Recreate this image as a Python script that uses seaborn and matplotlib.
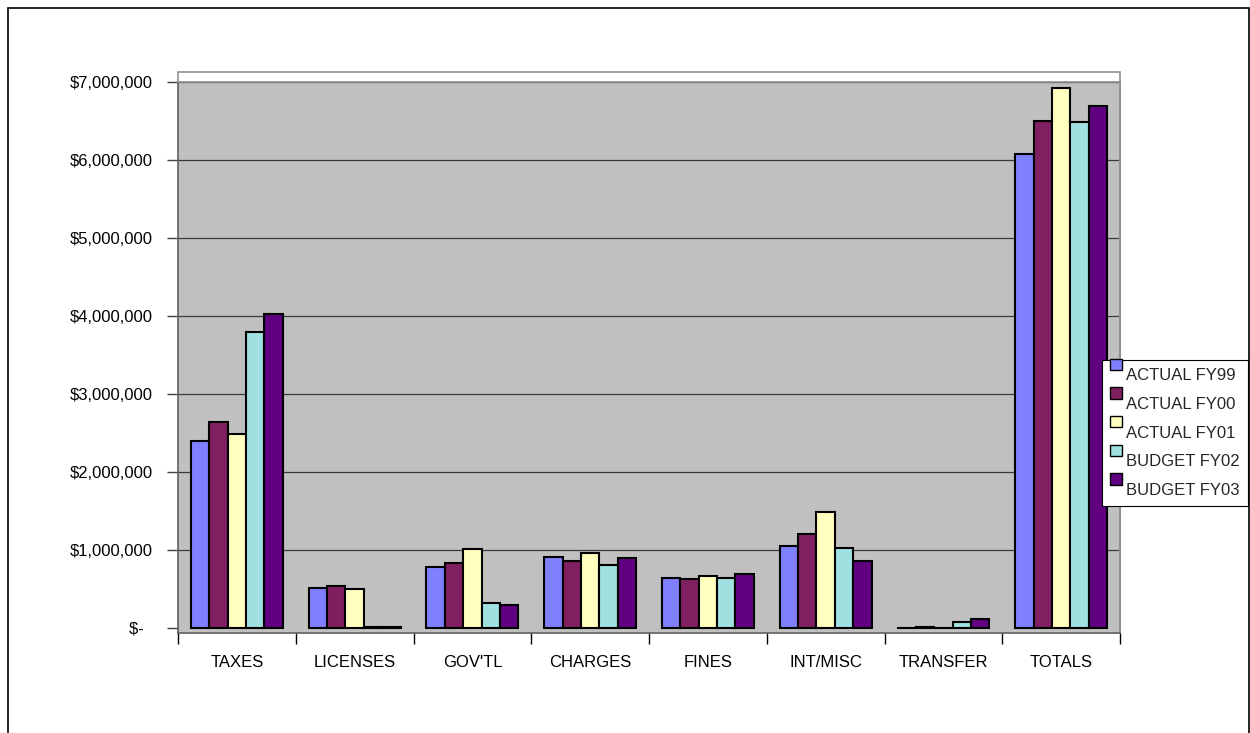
import numpy as np
import pandas as pd
import matplotlib
matplotlib.use("Agg")
import matplotlib.pyplot as plt
import seaborn as sns
from matplotlib.ticker import FuncFormatter, FixedLocator
from matplotlib.patches import Rectangle, Patch
from matplotlib.legend_handler import HandlerPatch

categories = ["TAXES", "LICENSES", "GOV'TL", "CHARGES", "FINES", "INT/MISC", "TRANSFER", "TOTALS"]
series = ["ACTUAL FY99", "ACTUAL FY00", "ACTUAL FY01", "BUDGET FY02", "BUDGET FY03"]
actual_fy99 = [2400000, 510000, 780000, 910000, 640000, 1050000, 0, 6080000]
actual_fy00 = [2640000, 540000, 830000, 860000, 630000, 1210000, 10000, 6500000]
actual_fy01 = [2490000, 500000, 1010000, 960000, 670000, 1490000, 0, 6920000]
budget_fy02 = [3790000, 10000, 320000, 810000, 640000, 1030000, 70000, 6490000]
budget_fy03 = [4030000, 10000, 290000, 900000, 690000, 860000, 110000, 6690000]
colors = ["#8080FF", "#802060", "#FFFFC0", "#A0E0E0", "#600080"]

values = [actual_fy99, actual_fy00, actual_fy01, budget_fy02, budget_fy03]
rows = []
for s, vals in zip(series, values):
    for c, v in zip(categories, vals):
        rows.append({"category": c, "series": s, "value": v})
df = pd.DataFrame(rows)

sns.set_theme(style="white")
plt.rcParams["font.family"] = ["Liberation Sans", "DejaVu Sans"]

W, H = 1250, 733
fig = plt.figure(figsize=(W / 100, H / 100), dpi=100)
fig.patch.set_facecolor("white")

left, right, top, bottom = 178, 1120, 82, 633
ax = fig.add_axes([left / W, 1 - bottom / H, (right - left) / W, (bottom - top) / H])
ax.set_facecolor("#C0C0C0")

sns.barplot(data=df, x="category", y="value", hue="series", order=categories,
            hue_order=series, palette=colors, width=0.78, gap=0, saturation=1,
            edgecolor="black", linewidth=1.5, legend=False, ax=ax, zorder=3)

ax.set_xlim(-0.5, len(categories) - 0.5)
ax.set_ylim(-65000, 7000000)
ax.set_xlabel("")
ax.set_ylabel("")

yt = np.arange(0, 8) * 1000000
ax.yaxis.set_major_locator(FixedLocator(yt))
ax.yaxis.set_major_formatter(FuncFormatter(lambda v, p: "$-  " if v == 0 else "${:,.0f}".format(v)))
for y in yt[1:]:
    ax.axhline(y, color="#3a3a3a", lw=0.9, zorder=1)

ax.tick_params(axis="y", which="major", length=8, width=1, color="#404040",
               direction="out", labelsize=12, pad=10, left=True)
ax.xaxis.set_minor_locator(FixedLocator(np.arange(-0.5, len(categories), 1.0)))
ax.tick_params(axis="x", which="minor", length=8, width=1, color="black", direction="out", bottom=True)
ax.tick_params(axis="x", which="major", length=0, labelsize=12, pad=16)
for lbl in ax.get_xticklabels() + ax.get_yticklabels():
    lbl.set_color("black")

for side in ["left", "bottom"]:
    ax.spines[side].set_color("#606060")
    ax.spines[side].set_linewidth(1.2)
ax.spines["right"].set_color("#909090")
ax.spines["right"].set_linewidth(1.5)
ax.spines["top"].set_visible(False)

# 3D wall top strip
fig.patches.append(Rectangle((left / W, 1 - top / H), (right - left) / W, 10 / H,
                             transform=fig.transFigure, facecolor="white",
                             edgecolor="#909090", lw=1.2, zorder=0))


def raised_square(legend, orig_handle, xdescent, ydescent, width, height, fontsize):
    return Rectangle((-xdescent, -ydescent + height - 1.0), width, width)


handles = [Patch(facecolor=c, edgecolor="black", lw=1) for c in colors]
leg = fig.legend(handles, series, loc="upper left", bbox_to_anchor=(1102 / W, 1 - 360 / H),
                 bbox_transform=fig.transFigure, fontsize=12, frameon=True, fancybox=False,
                 edgecolor="black", framealpha=1, borderpad=0.5, labelspacing=0.82,
                 handlelength=0.68, handleheight=0.7, handletextpad=0.25, borderaxespad=0,
                 handler_map={Patch: HandlerPatch(patch_func=raised_square)})
leg.get_frame().set_linewidth(0.8)

# chart outer border
fig.patches.append(Rectangle((8 / W, -0.01), (W - 9) / W, 1 - 8 / H + 0.01,
                             transform=fig.transFigure, fill=False, edgecolor="black", lw=1.2))

fig.savefig("out.png", dpi=100)
